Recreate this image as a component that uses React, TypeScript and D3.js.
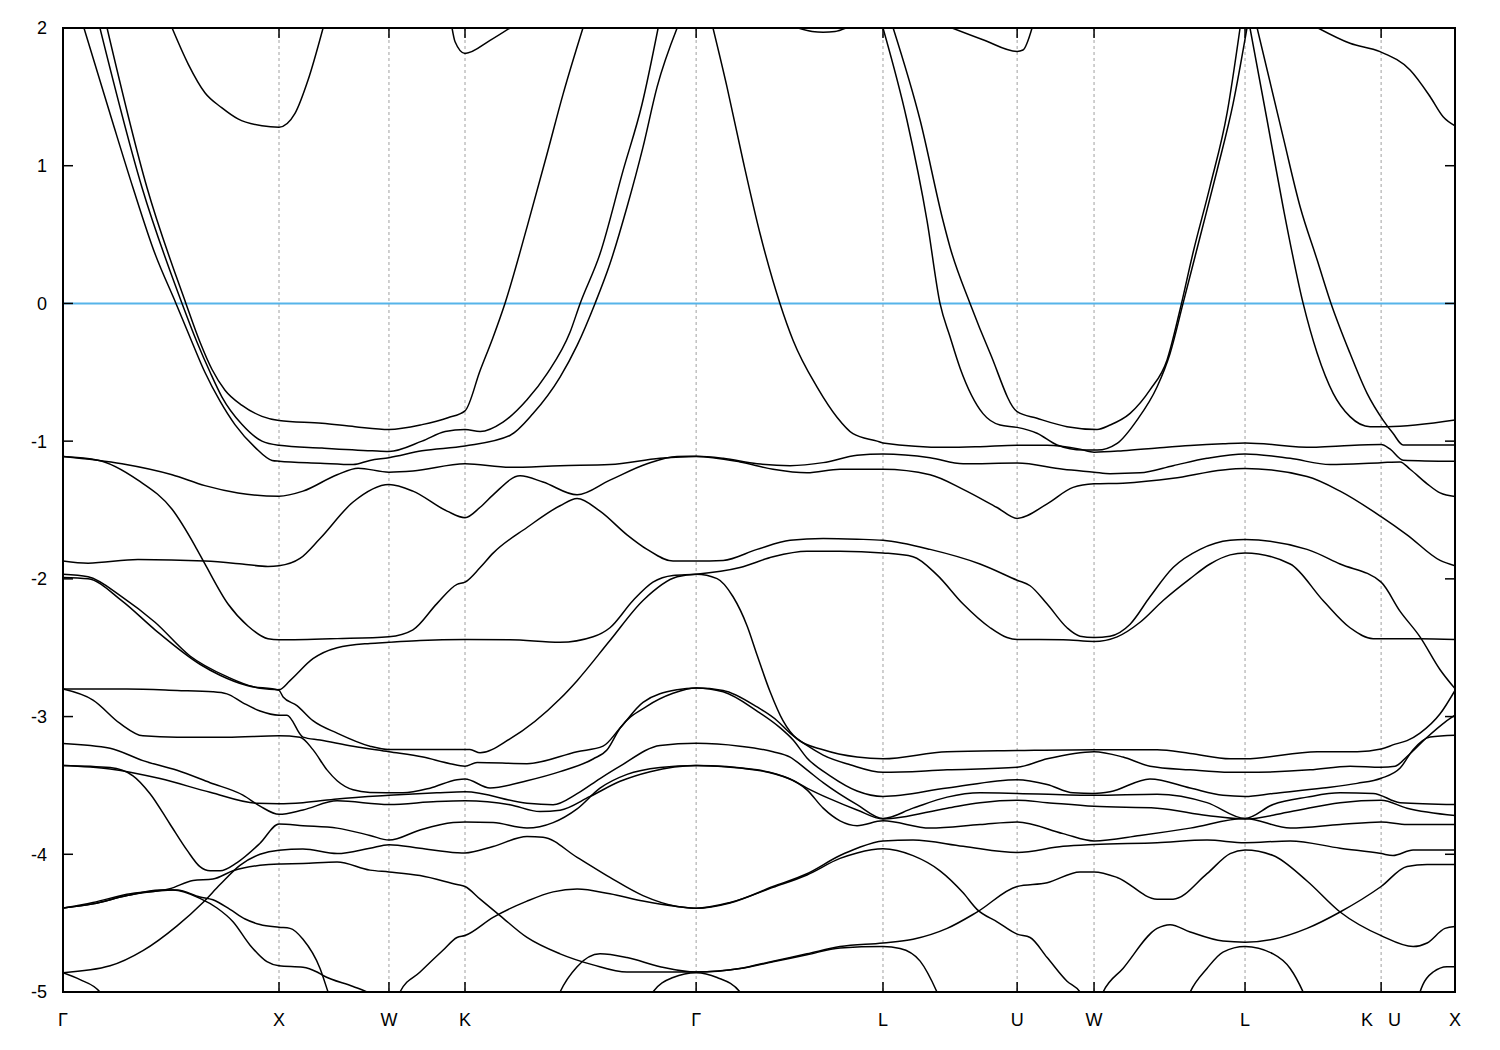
import React from 'react';
import * as d3 from 'd3';

// ---- axis data ----
const kTicks = [0, 1.0, 1.509, 1.861, 2.931, 3.796, 4.417, 4.773, 5.472, 6.102, 6.444];
const kLabels = ['Γ', 'X', 'W', 'K', 'Γ', 'L', 'U', 'W', 'L', 'K   U', 'X'];
const eTicks = [2, 1, 0, -1, -2, -3, -4, -5];
const eRange: [number, number] = [-5, 2];
const fermiLevel = 0;

type P = [number, number];

// ---- bands: [k, E] ----
const bandC1: P[] = [[0.097,2.0],[0.227,1.33],[0.324,0.84],[0.426,0.36],[0.523,0],[0.597,-0.28],[0.657,-0.50],[0.727,-0.71],[0.796,-0.88],[0.889,-1.045],[0.968,-1.14],[1.0,-1.146],[1.190,-1.16],[1.343,-1.17],[1.421,-1.14],[1.509,-1.12],[1.662,-1.07],[1.861,-1.035],[2.069,-0.959],[2.176,-0.80],[2.301,-0.535],[2.380,-0.305],[2.463,0],[2.532,0.288],[2.611,0.70],[2.685,1.135],[2.750,1.571],[2.843,2.0]];
const bandC2: P[] = [[0.171,2.0],[0.366,0.84],[0.551,0],[0.620,-0.28],[0.681,-0.50],[0.736,-0.68],[0.829,-0.88],[0.921,-1.0],[1.0,-1.03],[1.199,-1.05],[1.431,-1.07],[1.509,-1.075],[1.662,-1.0],[1.769,-0.93],[1.861,-0.915],[1.931,-0.93],[2.037,-0.862],[2.148,-0.70],[2.241,-0.51],[2.347,-0.21],[2.394,0],[2.486,0.36],[2.593,0.966],[2.681,1.45],[2.755,2.0]];
const bandC3: P[] = [[0.204,2.0],[0.389,0.84],[0.569,0],[0.634,-0.28],[0.690,-0.48],[0.750,-0.63],[0.829,-0.74],[0.921,-0.82],[1.0,-0.85],[1.199,-0.87],[1.352,-0.895],[1.509,-0.915],[1.662,-0.88],[1.782,-0.83],[1.861,-0.78],[1.931,-0.487],[1.991,-0.245],[2.046,0],[2.148,0.554],[2.241,1.087],[2.315,1.52],[2.407,2.0]];
const bandC4: P[] = [[0.505,2.0],[0.579,1.74],[0.657,1.53],[0.736,1.42],[0.810,1.34],[0.921,1.29],[1.0,1.28],[1.074,1.38],[1.134,1.62],[1.204,2.0]];
const bandC5: P[] = [[1.801,2.0],[1.815,1.9],[1.861,1.815],[1.977,1.91],[2.069,2.0]];
const bandC6: P[] = [[3.403,2.0],[3.468,1.975],[3.519,1.97],[3.574,1.975],[3.625,2.0]];
const bandC7: P[] = [[4.116,2.0],[4.259,1.915],[4.417,1.83],[4.444,1.84],[4.486,2.0]];
const bandC8: P[] = [[5.810,2.0],[5.958,1.889],[6.097,1.828],[6.236,1.695],[6.329,1.501],[6.389,1.356],[6.444,1.29]];
const bandC9: P[] = [[3.009,2.0],[3.074,1.571],[3.148,1.038],[3.227,0.506],[3.319,0],[3.380,-0.269],[3.491,-0.608],[3.583,-0.826],[3.657,-0.946],[3.769,-1.0],[3.796,-1.013],[4.093,-1.045],[4.245,-1.04],[4.417,-1.03],[4.556,-1.03],[4.708,-1.058],[4.773,-1.08],[4.907,-1.07],[5.065,-1.05],[5.218,-1.032],[5.370,-1.019],[5.472,-1.013],[5.787,-1.045],[5.912,-1.035],[6.102,-1.024],[6.144,-1.058],[6.204,-1.138],[6.444,-1.146]];
const bandPa: P[] = [[3.796,2.0],[3.907,1.33],[4.0,0.60],[4.060,0],[4.106,-0.24],[4.153,-0.47],[4.259,-0.80],[4.338,-0.883],[4.417,-0.90],[4.509,-0.943],[4.602,-1.028],[4.722,-1.065],[4.787,-1.065],[4.880,-1.016],[4.972,-0.847],[5.065,-0.605],[5.125,-0.363],[5.185,0],[5.264,0.484],[5.343,0.969],[5.417,1.453],[5.481,2.0]];
const bandPb: P[] = [[3.843,2.0],[3.968,1.33],[4.074,0.60],[4.106,0.41],[4.199,0],[4.292,-0.362],[4.417,-0.786],[4.509,-0.834],[4.648,-0.895],[4.787,-0.915],[4.847,-0.883],[4.940,-0.798],[5.032,-0.628],[5.111,-0.41],[5.171,-0.046],[5.231,0.366],[5.310,0.85],[5.389,1.383],[5.449,2.0]];
const bandPc: P[] = [[5.495,2.0],[5.574,1.332],[5.648,0.702],[5.741,0],[5.806,-0.362],[5.880,-0.653],[5.958,-0.822],[6.051,-0.895],[6.130,-0.895],[6.444,-0.847]];
const bandPd: P[] = [[5.528,2.0],[5.648,1.211],[5.727,0.702],[5.806,0.315],[5.870,0],[5.958,-0.362],[6.037,-0.653],[6.111,-0.847],[6.157,-0.943],[6.204,-1.028],[6.444,-1.028]];
const bandD1: P[] = [[0,-1.111],[0.273,-1.164],[0.505,-1.244],[0.657,-1.323],[0.810,-1.376],[1.0,-1.40],[1.111,-1.363],[1.269,-1.244],[1.366,-1.196],[1.509,-1.225],[1.620,-1.217],[1.861,-1.164],[2.069,-1.19],[2.301,-1.178],[2.532,-1.17],[2.764,-1.125],[2.931,-1.111],[3.134,-1.151],[3.287,-1.204],[3.444,-1.23],[3.597,-1.204],[3.796,-1.204],[4.014,-1.244],[4.167,-1.35],[4.324,-1.482],[4.417,-1.561],[4.556,-1.455],[4.676,-1.336],[4.773,-1.31],[4.907,-1.305],[5.139,-1.27],[5.370,-1.209],[5.472,-1.199],[5.759,-1.257],[5.912,-1.363],[6.102,-1.548],[6.222,-1.68],[6.375,-1.866],[6.444,-1.905]];
const bandD2: P[] = [[0,-1.87],[0.116,-1.886],[0.347,-1.86],[0.657,-1.871],[0.829,-1.892],[0.949,-1.91],[1.0,-1.905],[1.097,-1.852],[1.190,-1.707],[1.343,-1.442],[1.509,-1.315],[1.620,-1.363],[1.778,-1.508],[1.861,-1.556],[1.931,-1.48],[1.991,-1.39],[2.116,-1.252],[2.222,-1.297],[2.380,-1.39],[2.532,-1.283],[2.704,-1.164],[2.843,-1.111],[2.931,-1.11],[3.056,-1.125],[3.213,-1.164],[3.366,-1.178],[3.519,-1.156],[3.676,-1.103],[3.796,-1.093],[4.014,-1.12],[4.167,-1.164],[4.417,-1.159],[4.630,-1.204],[4.773,-1.225],[4.847,-1.236],[4.986,-1.23],[5.139,-1.178],[5.296,-1.125],[5.472,-1.093],[5.681,-1.125],[5.866,-1.17],[6.102,-1.156],[6.190,-1.151],[6.236,-1.204],[6.315,-1.31],[6.375,-1.376],[6.444,-1.402]];
const bandD3: P[] = [[0,-1.111],[0.162,-1.138],[0.347,-1.283],[0.505,-1.495],[0.611,-1.76],[0.657,-1.892],[0.764,-2.183],[0.856,-2.342],[0.949,-2.435],[1.0,-2.443],[1.269,-2.434],[1.509,-2.42],[1.620,-2.37],[1.731,-2.18],[1.824,-2.04],[1.861,-2.024],[1.931,-1.918],[1.991,-1.813],[2.148,-1.627],[2.301,-1.469],[2.380,-1.416],[2.486,-1.508],[2.611,-1.68],[2.704,-1.786],[2.824,-1.871],[2.931,-1.871],[3.056,-1.866],[3.213,-1.786],[3.366,-1.72],[3.519,-1.707],[3.676,-1.712],[3.796,-1.72],[4.014,-1.786],[4.245,-1.892],[4.417,-2.01],[4.477,-2.05],[4.556,-2.183],[4.648,-2.355],[4.708,-2.416],[4.773,-2.426],[4.847,-2.416],[4.940,-2.329],[5.032,-2.13],[5.139,-1.918],[5.264,-1.786],[5.403,-1.72],[5.472,-1.715],[5.759,-1.786],[5.912,-1.892],[6.102,-2.024],[6.190,-2.236],[6.282,-2.421],[6.375,-2.66],[6.444,-2.797]];
const bandE1: P[] = [[0,-1.966],[0.116,-1.985],[0.273,-2.13],[0.426,-2.315],[0.588,-2.56],[0.759,-2.71],[0.912,-2.795],[1.0,-2.805],[1.051,-2.739],[1.157,-2.58],[1.269,-2.50],[1.421,-2.469],[1.509,-2.461],[1.653,-2.447],[1.861,-2.44],[2.069,-2.442],[2.301,-2.461],[2.454,-2.421],[2.532,-2.355],[2.639,-2.157],[2.731,-2.024],[2.824,-1.975],[2.931,-1.966],[3.134,-1.918],[3.287,-1.839],[3.444,-1.799],[3.597,-1.799],[3.796,-1.812],[3.935,-1.839],[4.046,-1.971],[4.167,-2.183],[4.292,-2.355],[4.370,-2.426],[4.417,-2.44],[4.630,-2.442],[4.773,-2.455],[4.880,-2.421],[4.986,-2.315],[5.093,-2.157],[5.218,-1.998],[5.310,-1.892],[5.403,-1.826],[5.472,-1.812],[5.681,-1.892],[5.833,-2.157],[5.958,-2.355],[6.065,-2.434],[6.282,-2.434],[6.444,-2.44]];
const bandE2: P[] = [[0,-1.99],[0.116,-2.0],[0.273,-2.16],[0.426,-2.37],[0.634,-2.62],[0.727,-2.70],[0.852,-2.775],[1.0,-2.81],[1.019,-2.858],[1.083,-2.92],[1.157,-3.03],[1.269,-3.12],[1.421,-3.215],[1.509,-3.24],[1.884,-3.24],[1.931,-3.263],[2.069,-3.162],[2.301,-2.871],[2.380,-2.739],[2.532,-2.448],[2.685,-2.157],[2.843,-1.985],[2.931,-1.966],[3.028,-1.998],[3.102,-2.13],[3.167,-2.342],[3.213,-2.553],[3.273,-2.818],[3.333,-3.03],[3.398,-3.162],[3.519,-3.241],[3.676,-3.294],[3.796,-3.307],[4.093,-3.255],[4.417,-3.247],[4.773,-3.241],[4.907,-3.241],[5.065,-3.241],[5.218,-3.268],[5.403,-3.307],[5.472,-3.307],[5.806,-3.255],[5.991,-3.255],[6.102,-3.236],[6.167,-3.2],[6.222,-3.175],[6.282,-3.12],[6.375,-2.98],[6.444,-2.81]];
const bandE3: P[] = [[0,-2.80],[0.296,-2.80],[0.528,-2.81],[0.694,-2.82],[0.759,-2.835],[0.833,-2.90],[0.912,-2.96],[1.0,-2.99],[1.037,-2.99],[1.111,-3.149],[1.190,-3.17],[1.343,-3.215],[1.509,-3.255],[1.667,-3.294],[1.792,-3.342],[1.861,-3.36],[1.917,-3.334],[2.148,-3.342],[2.380,-3.255],[2.500,-3.215],[2.579,-3.083],[2.685,-2.897],[2.843,-2.805],[2.931,-2.792],[3.056,-2.81],[3.213,-2.93],[3.306,-3.03],[3.366,-3.12],[3.444,-3.21],[3.519,-3.28],[3.644,-3.35],[3.796,-3.405],[4.093,-3.387],[4.417,-3.368],[4.556,-3.307],[4.773,-3.255],[4.907,-3.294],[5.032,-3.36],[5.218,-3.387],[5.403,-3.405],[5.472,-3.405],[5.773,-3.387],[5.958,-3.36],[6.102,-3.368],[6.167,-3.36],[6.222,-3.29],[6.315,-3.15],[6.398,-3.04],[6.444,-2.99]];
const bandE4: P[] = [[0,-2.80],[0.139,-2.88],[0.264,-3.05],[0.370,-3.14],[0.528,-3.15],[0.759,-3.15],[1.0,-3.14],[1.097,-3.15],[1.157,-3.24],[1.222,-3.387],[1.269,-3.466],[1.343,-3.532],[1.421,-3.551],[1.574,-3.554],[1.699,-3.52],[1.824,-3.458],[1.861,-3.453],[1.977,-3.519],[2.148,-3.466],[2.301,-3.40],[2.454,-3.308],[2.519,-3.241],[2.579,-3.083],[2.704,-2.924],[2.824,-2.831],[2.931,-2.792],[3.056,-2.82],[3.213,-2.96],[3.319,-3.08],[3.380,-3.17],[3.444,-3.30],[3.551,-3.43],[3.676,-3.54],[3.796,-3.58],[4.093,-3.519],[4.417,-3.458],[4.556,-3.493],[4.676,-3.554],[4.773,-3.558],[4.847,-3.546],[5.032,-3.453],[5.218,-3.519],[5.370,-3.572],[5.472,-3.58],[5.602,-3.558],[5.833,-3.519],[5.991,-3.485],[6.102,-3.448],[6.190,-3.374],[6.250,-3.241],[6.329,-3.149],[6.444,-3.136]];
const bandE5: P[] = [[0,-3.195],[0.218,-3.23],[0.370,-3.32],[0.528,-3.39],[0.681,-3.48],[0.833,-3.57],[0.912,-3.65],[1.0,-3.71],[1.111,-3.678],[1.269,-3.612],[1.509,-3.638],[1.731,-3.617],[1.861,-3.612],[2.069,-3.64],[2.208,-3.69],[2.301,-3.68],[2.440,-3.58],[2.579,-3.47],[2.718,-3.40],[2.931,-3.355],[3.213,-3.387],[3.366,-3.453],[3.444,-3.519],[3.551,-3.598],[3.676,-3.678],[3.796,-3.744],[4.093,-3.665],[4.245,-3.625],[4.417,-3.607],[4.556,-3.625],[4.773,-3.652],[5.065,-3.665],[5.296,-3.718],[5.472,-3.744],[5.681,-3.691],[5.912,-3.625],[6.102,-3.607],[6.222,-3.665],[6.444,-3.718]];
const bandE6: P[] = [[0,-3.355],[0.218,-3.38],[0.449,-3.45],[0.681,-3.55],[0.898,-3.63],[1.0,-3.633],[1.111,-3.625],[1.269,-3.598],[1.509,-3.572],[1.731,-3.554],[1.861,-3.546],[2.148,-3.63],[2.269,-3.64],[2.380,-3.56],[2.486,-3.45],[2.579,-3.36],[2.764,-3.21],[2.931,-3.194],[3.134,-3.215],[3.287,-3.255],[3.366,-3.294],[3.444,-3.387],[3.519,-3.48],[3.676,-3.64],[3.796,-3.74],[3.935,-3.665],[4.093,-3.585],[4.245,-3.554],[4.417,-3.558],[4.773,-3.572],[5.065,-3.564],[5.296,-3.625],[5.472,-3.74],[5.602,-3.638],[5.759,-3.585],[5.912,-3.554],[6.065,-3.558],[6.190,-3.625],[6.444,-3.638]];
const bandE7: P[] = [[0,-3.355],[0.218,-3.37],[0.324,-3.43],[0.403,-3.56],[0.495,-3.78],[0.574,-3.97],[0.634,-4.09],[0.681,-4.12],[0.727,-4.12],[0.806,-4.06],[0.912,-3.92],[1.0,-3.78],[1.111,-3.792],[1.269,-3.81],[1.421,-3.863],[1.509,-3.897],[1.653,-3.823],[1.806,-3.77],[1.861,-3.765],[1.991,-3.77],[2.148,-3.81],[2.269,-3.77],[2.380,-3.67],[2.486,-3.52],[2.611,-3.42],[2.764,-3.37],[2.931,-3.355],[3.134,-3.374],[3.287,-3.413],[3.398,-3.48],[3.444,-3.532],[3.519,-3.665],[3.597,-3.757],[3.676,-3.792],[3.796,-3.757],[4.014,-3.81],[4.245,-3.784],[4.417,-3.765],[4.630,-3.85],[4.773,-3.903],[4.986,-3.863],[5.218,-3.81],[5.472,-3.74],[5.681,-3.81],[5.912,-3.784],[6.102,-3.765],[6.222,-3.784],[6.444,-3.784]];
const bandE8: P[] = [[0,-4.39],[0.139,-4.35],[0.296,-4.29],[0.495,-4.25],[0.602,-4.19],[0.694,-4.18],[0.787,-4.12],[0.912,-4.08],[1.0,-4.07],[1.111,-4.067],[1.269,-4.056],[1.421,-4.115],[1.509,-4.128],[1.653,-4.154],[1.824,-4.22],[1.861,-4.234],[1.931,-4.326],[2.023,-4.445],[2.148,-4.604],[2.301,-4.723],[2.454,-4.803],[2.611,-4.855],[2.931,-4.855],[3.134,-4.829],[3.287,-4.776],[3.444,-4.723],[3.597,-4.67],[3.796,-4.644],[3.935,-4.617],[4.093,-4.538],[4.231,-4.42],[4.417,-4.234],[4.556,-4.207],[4.708,-4.128],[4.773,-4.128],[4.880,-4.168],[5.065,-4.326],[5.139,-4.326],[5.296,-4.141],[5.403,-3.995],[5.472,-3.969],[5.602,-4.009],[5.759,-4.194],[5.912,-4.419],[6.102,-4.591],[6.250,-4.67],[6.315,-4.644],[6.398,-4.538],[6.444,-4.525]];
const bandE9: P[] = [[0,-4.39],[0.139,-4.36],[0.296,-4.30],[0.449,-4.26],[0.528,-4.26],[0.634,-4.31],[0.694,-4.33],[0.773,-4.40],[0.843,-4.47],[0.912,-4.51],[1.0,-4.53],[1.051,-4.538],[1.111,-4.617],[1.190,-4.829],[1.227,-5.0],[1.240,-5.06]];
const bandE10: P[] = [[0,-4.39],[0.139,-4.36],[0.296,-4.30],[0.449,-4.265],[0.509,-4.26],[0.634,-4.32],[0.713,-4.39],[0.787,-4.49],[0.866,-4.66],[0.944,-4.78],[1.0,-4.81],[1.111,-4.82],[1.176,-4.855],[1.204,-4.88],[1.343,-4.96],[1.407,-5.0],[1.430,-5.02]];
const bandE11: P[] = [[0,-4.86],[0.218,-4.81],[0.370,-4.70],[0.528,-4.52],[0.648,-4.35],[0.727,-4.22],[0.819,-4.08],[0.912,-4.0],[1.0,-3.97],[1.111,-3.962],[1.269,-3.995],[1.421,-3.956],[1.509,-3.93],[1.653,-3.956],[1.824,-3.988],[1.861,-3.99],[1.991,-3.943],[2.148,-3.871],[2.222,-3.876],[2.380,-4.022],[2.532,-4.168],[2.685,-4.30],[2.843,-4.379],[2.931,-4.392],[3.088,-4.353],[3.287,-4.234],[3.444,-4.141],[3.597,-4.009],[3.676,-3.956],[3.796,-3.903],[3.935,-3.897],[4.167,-3.942],[4.417,-3.987],[4.630,-3.942],[4.773,-3.929],[5.065,-3.916],[5.296,-3.897],[5.472,-3.916],[5.681,-3.903],[5.912,-3.956],[6.102,-3.995],[6.157,-4.009],[6.250,-3.969],[6.444,-3.969]];
const bandE12: P[] = [[0,-4.86],[0.079,-4.91],[0.171,-5.0],[0.194,-5.05]];
const bandE13: P[] = [[1.546,-5.05],[1.560,-5.0],[1.653,-4.855],[1.759,-4.697],[1.824,-4.604],[1.861,-4.59],[1.991,-4.458],[2.148,-4.34],[2.269,-4.273],[2.380,-4.252],[2.532,-4.287],[2.685,-4.34],[2.843,-4.379],[2.931,-4.392],[3.088,-4.35],[3.287,-4.24],[3.444,-4.15],[3.597,-4.03],[3.676,-3.99],[3.796,-3.96],[3.935,-4.01],[4.060,-4.12],[4.167,-4.28],[4.231,-4.40],[4.324,-4.49],[4.417,-4.58],[4.477,-4.604],[4.556,-4.75],[4.648,-4.922],[4.708,-5.0],[4.727,-5.05]];
const bandE14: P[] = [[2.287,-5.05],[2.301,-5.0],[2.380,-4.816],[2.486,-4.723],[2.611,-4.75],[2.764,-4.816],[2.931,-4.855],[3.134,-4.83],[3.287,-4.78],[3.444,-4.73],[3.597,-4.68],[3.796,-4.67],[3.875,-4.684],[3.968,-4.776],[4.046,-5.0],[4.060,-5.05]];
const bandE15: P[] = [[2.718,-5.05],[2.731,-5.0],[2.824,-4.895],[2.931,-4.86],[3.028,-4.895],[3.134,-5.0],[3.148,-5.05]];
const bandE16: P[] = [[4.801,-5.05],[4.815,-5.0],[4.907,-4.829],[5.065,-4.538],[5.125,-4.511],[5.218,-4.564],[5.370,-4.63],[5.472,-4.638],[5.602,-4.617],[5.759,-4.538],[5.912,-4.419],[6.102,-4.234],[6.222,-4.088],[6.315,-4.075],[6.444,-4.075]];
const bandE17: P[] = [[5.204,-5.05],[5.218,-5.0],[5.296,-4.829],[5.370,-4.71],[5.472,-4.67],[5.602,-4.723],[5.681,-4.829],[5.741,-5.0],[5.755,-5.05]];
const bandE18: P[] = [[6.273,-5.05],[6.282,-5.0],[6.343,-4.855],[6.407,-4.816],[6.444,-4.816]];

const bands: P[][] = [
  bandC1, bandC2, bandC3, bandC4, bandC5, bandC6, bandC7, bandC8, bandC9,
  bandPa, bandPb, bandPc, bandPd,
  bandD1, bandD2, bandD3,
  bandE1, bandE2, bandE3, bandE4, bandE5, bandE6, bandE7, bandE8, bandE9,
  bandE10, bandE11, bandE12, bandE13, bandE14, bandE15, bandE16, bandE17, bandE18,
];

export default function App() {
  const width = 1500;
  const height = 1050;
  const margin = { left: 63, right: 45, top: 28, bottom: 58 };
  const x = d3.scaleLinear()
    .domain([kTicks[0], kTicks[kTicks.length - 1]])
    .range([margin.left, width - margin.right]);
  const y = d3.scaleLinear().domain(eRange).range([height - margin.bottom, margin.top]);
  const line = d3.line<P>().x(d => x(d[0])).y(d => y(d[1])).curve(d3.curveMonotoneX);

  const x0 = x.range()[0], x1 = x.range()[1];
  const y0 = y.range()[1], y1 = y.range()[0];
  const tickLen = 10;
  const font = "'Liberation Sans', Arial, Helvetica, sans-serif";

  return (
    <svg width={width} height={height} style={{ position: 'absolute', left: 0, top: 0, background: '#fff' }}
      xmlns="http://www.w3.org/2000/svg">
      <defs>
        <clipPath id="plotClip">
          <rect x={x0} y={y0} width={x1 - x0} height={y1 - y0} />
        </clipPath>
      </defs>
      <rect x={0} y={0} width={width} height={height} fill="#fff" />
      {/* dashed vertical grid at interior symmetry points */}
      {kTicks.slice(1, -1).map((k, i) => (
        <line key={'g' + i} x1={x(k)} x2={x(k)} y1={y0} y2={y1}
          stroke="#a0a0a0" strokeWidth={1} strokeDasharray="3,3" />
      ))}
      {/* Fermi level */}
      <line x1={x0} x2={x1} y1={y(fermiLevel)} y2={y(fermiLevel)} stroke="#56b4e9" strokeWidth={2} />
      {/* bands */}
      <g clipPath="url(#plotClip)">
        {bands.map((b, i) => (
          <path key={'b' + i} d={line(b) || ''} fill="none" stroke="#000" strokeWidth={1.5}
            strokeLinejoin="round" strokeLinecap="round" />
        ))}
      </g>
      {/* y ticks + labels */}
      {eTicks.map((e, i) => (
        <g key={'y' + i}>
          <line x1={x0} x2={x0 + tickLen} y1={y(e)} y2={y(e)} stroke="#000" strokeWidth={1.5} />
          <line x1={x1} x2={x1 - tickLen} y1={y(e)} y2={y(e)} stroke="#000" strokeWidth={1.5} />
          <text x={x0 - 16} y={y(e)} dy="0.36em" textAnchor="end" fontFamily={font} fontSize={18} fill="#000">{e}</text>
        </g>
      ))}
      {/* x ticks + labels */}
      {kTicks.map((k, i) => (
        <g key={'x' + i}>
          <line x1={x(k)} x2={x(k)} y1={y1} y2={y1 - tickLen} stroke="#000" strokeWidth={1.5} />
          <line x1={x(k)} x2={x(k)} y1={y0} y2={y0 + tickLen} stroke="#000" strokeWidth={1.5} />
          <text x={x(k)} y={y1 + 34} textAnchor="middle" fontFamily={font} fontSize={18} fill="#000"
            style={{ whiteSpace: 'pre' }}>{kLabels[i]}</text>
        </g>
      ))}
      {/* frame */}
      <rect x={x0} y={y0} width={x1 - x0} height={y1 - y0} fill="none" stroke="#000" strokeWidth={2} />
    </svg>
  );
}
